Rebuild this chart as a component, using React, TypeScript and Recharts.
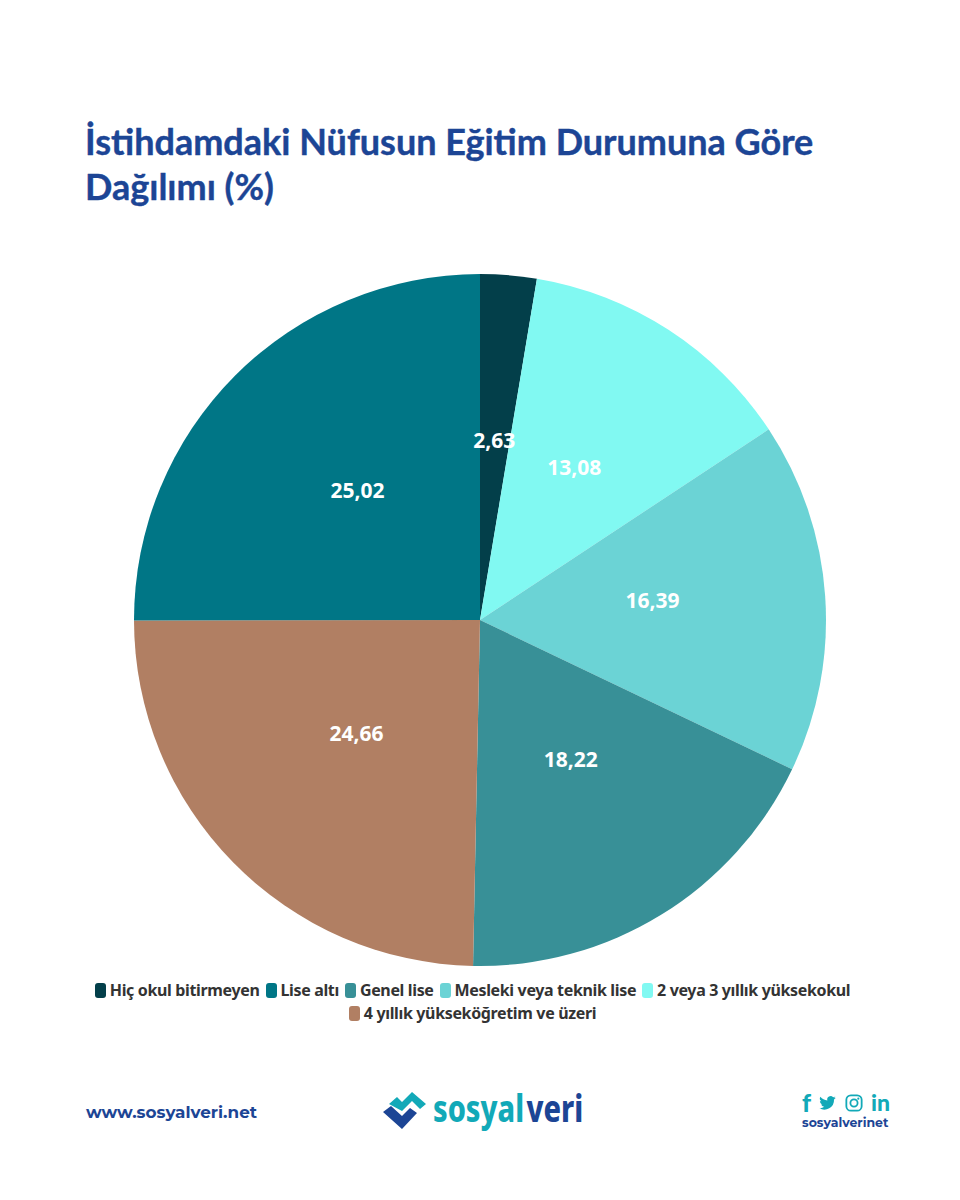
import { PieChart, Pie, Cell, Legend } from "recharts";

const categories = [
  "Hiç okul bitirmeyen",
  "2 veya 3 yıllık yüksekokul",
  "Mesleki veya teknik lise",
  "Genel lise",
  "4 yıllık yükseköğretim ve üzeri",
  "Lise altı",
];
const values = [2.63, 13.08, 16.39, 18.22, 24.66, 25.02];
const colors = ["#033f4a", "#81f9f2", "#6bd3d5", "#389097", "#b17f63", "#007686"];
const legendRow1 = ["Hiç okul bitirmeyen", "Lise altı", "Genel lise", "Mesleki veya teknik lise", "2 veya 3 yıllık yüksekokul"];
const legendRow2 = ["4 yıllık yükseköğretim ve üzeri"];

const data = categories.map((name, i) => ({ name, value: values[i] }));
const RAD = Math.PI / 180;
const TEAL = "#12a9b8";
const BLUE = "#1c4595";

function renderLabel({ cx, cy, midAngle, outerRadius, value }: any) {
  const r = outerRadius * 0.5;
  const x = cx + r * Math.cos(-midAngle * RAD);
  const y = cy + r * Math.sin(-midAngle * RAD) - 8;
  return (
    <text x={x} y={y} fill="#fff" fontSize={21} fontWeight={700} fontFamily="'Noto Sans'" textAnchor="middle" dominantBaseline="central">
      {value.toFixed(2).replace(".", ",")}
    </text>
  );
}

function LegendItem({ name }: { name: string }) {
  return (
    <span style={{ display: "inline-flex", alignItems: "center", margin: "0 3px" }}>
      <span style={{ width: 11, height: 15, borderRadius: 3, marginRight: 4, background: colors[categories.indexOf(name)] }} />
      <span>{name}</span>
    </span>
  );
}

function ChartLegend() {
  return (
    <div style={{ width: 945, textAlign: "center", fontFamily: "'Noto Sans'", fontWeight: 700, fontSize: 16, lineHeight: "21px", color: "#333", letterSpacing: -0.35 }}>
      <div>{legendRow1.map((n) => <LegendItem key={n} name={n} />)}</div>
      <div>{legendRow2.map((n) => <LegendItem key={n} name={n} />)}</div>
    </div>
  );
}

export default function App() {
  return (
    <div style={{ position: "absolute", left: 0, top: 0, width: 960, height: 1200, background: "#fff", overflow: "hidden" }}>
      <div style={{ position: "absolute", left: 85, top: 119, fontFamily: "Lato", fontWeight: 700, fontSize: 36, lineHeight: "45px", color: BLUE, whiteSpace: "nowrap", WebkitTextStroke: `0.4px ${BLUE}` }}>
        İstihdamdaki Nüfusun Eğitim Durumuna Göre
        <br />
        Dağılımı (%)
      </div>
      <PieChart width={960} height={1030} margin={{ top: 0, right: 0, bottom: 0, left: 0 }}>
        <Pie
          data={data}
          dataKey="value"
          nameKey="name"
          cx={480}
          cy={620}
          outerRadius={346}
          startAngle={90}
          endAngle={-270}
          stroke="none"
          label={renderLabel}
          labelLine={false}
          isAnimationActive={false}
        >
          {data.map((d, i) => <Cell key={d.name} fill={colors[i]} />)}
        </Pie>
        <Legend content={<ChartLegend />} wrapperStyle={{ position: "absolute", left: 0, top: 980, width: 945 }} />
      </PieChart>
      <div style={{ position: "absolute", left: 86, top: 1102, fontFamily: "Montserrat, Lato", fontWeight: 700, fontSize: 16.8, color: BLUE }}>www.sosyalveri.net</div>
      <svg width={50} height={45} viewBox="380 1088 50 45" style={{ position: "absolute", left: 380, top: 1088 }}>
        <path d="M389 1104 L397 1097 L402 1102 L412 1092 L426 1104 L420 1109 L412 1101 L402 1111 Z" fill={TEAL} />
        <path d="M383 1112 L391 1106 L402 1116 L410 1108 L417 1113 L402 1129 Z" fill={BLUE} />
      </svg>
      <div style={{ position: "absolute", left: 433, top: 1082, fontFamily: "'Noto Sans'", fontWeight: 800, fontSize: 37, transform: "scaleX(0.78)", transformOrigin: "left", whiteSpace: "nowrap" }}>
        <span style={{ color: TEAL }}>sosyal</span><span style={{ color: BLUE, marginLeft: 3 }}>veri</span>
      </div>
      <div style={{ position: "absolute", left: 802, top: 1088, fontFamily: "Lato", fontWeight: 900, fontSize: 25, lineHeight: "28px", color: TEAL }}>f</div>
      <svg width={19} height={18} viewBox="0 0 24 24" style={{ position: "absolute", left: 818, top: 1094 }}>
        <path fill={TEAL} d="M23 5c-.8.4-1.7.6-2.6.7.9-.6 1.6-1.4 2-2.5-.9.5-1.8.9-2.9 1.1A4.5 4.5 0 0 0 11.8 8.5 12.8 12.8 0 0 1 2.5 3.8a4.5 4.5 0 0 0 1.4 6c-.7 0-1.4-.2-2-.6 0 2.2 1.5 4 3.6 4.5-.7.2-1.4.2-2 .1.6 1.8 2.2 3.1 4.2 3.1A9 9 0 0 1 1 18.800 12.800 12.800 0 0 0 20.700 7.400C21.600 6.800 22.400 6 23 5Z" />
      </svg>
      <svg width={18} height={18} viewBox="0 0 20 20" style={{ position: "absolute", left: 845, top: 1094 }}>
        <rect x={1.5} y={1.5} width={17} height={17} rx={5} fill="none" stroke={TEAL} strokeWidth={2} />
        <circle cx={10} cy={10} r={4} fill="none" stroke={TEAL} strokeWidth={2} />
        <circle cx={14.8} cy={5.2} r={1.2} fill={TEAL} />
      </svg>
      <div style={{ position: "absolute", left: 871, top: 1088, fontFamily: "Lato", fontWeight: 900, fontSize: 23, lineHeight: "28px", color: TEAL }}>in</div>
      <div style={{ position: "absolute", left: 802, top: 1115, fontFamily: "Montserrat, Lato", fontWeight: 700, fontSize: 12.5, color: BLUE }}>sosyalverinet</div>
    </div>
  );
}
